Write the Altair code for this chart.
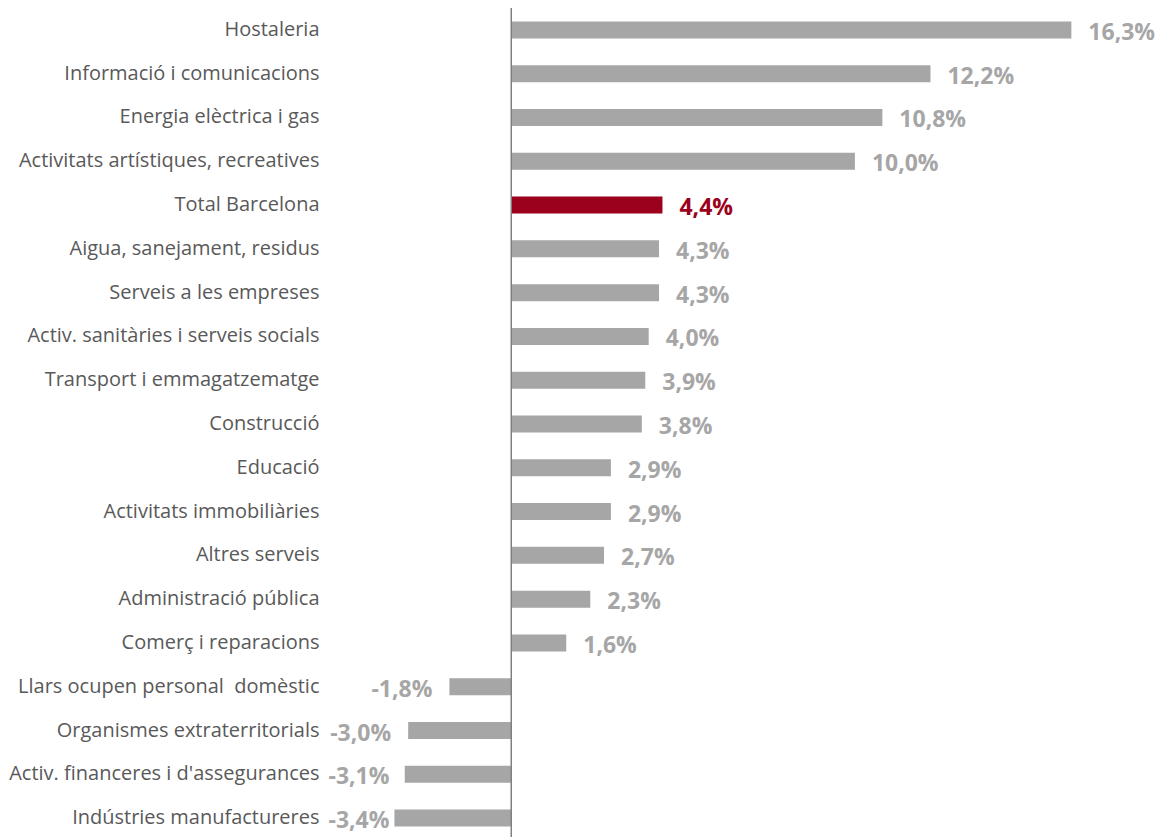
import altair as alt
import pandas as pd

categories = [
    "Hostaleria",
    "Informació i comunicacions",
    "Energia elèctrica i gas",
    "Activitats artístiques, recreatives",
    "Total Barcelona",
    "Aigua, sanejament, residus",
    "Serveis a les empreses",
    "Activ. sanitàries i serveis socials",
    "Transport i emmagatzematge",
    "Construcció",
    "Educació",
    "Activitats immobiliàries",
    "Altres serveis",
    "Administració pública",
    "Comerç i reparacions",
    "Llars ocupen personal\u00a0 domèstic",
    "Organismes extraterritorials",
    "Activ. financeres i d'assegurances",
    "Indústries manufactureres",
]
values = [16.3, 12.2, 10.8, 10.0, 4.4, 4.3, 4.3, 4.0, 3.9, 3.8,
          2.9, 2.9, 2.7, 2.3, 1.6, -1.8, -3.0, -3.1, -3.4]
highlight = "Total Barcelona"

df = pd.DataFrame({"cat": categories, "val": values})
df["label"] = df["val"].map(lambda v: f"{v:.1f}".replace(".", ",") + "%")
df["hl"] = df["cat"] == highlight

GREY = "#A6A6A6"
RED = "#9B001C"
FONT = "Open Sans"

y_enc = alt.Y("cat:N", sort=categories, axis=alt.Axis(
    title=None, ticks=False, domain=False, labelPadding=72,
    labelFontSize=20, labelColor="#595959", labelFont=FONT, labelLimit=420))
x_scale = alt.Scale(domain=[-3.5, 17.5], nice=False, zero=False)

base = alt.Chart(df)

bars = base.mark_bar(size=17).encode(
    y=y_enc,
    x=alt.X("val:Q", scale=x_scale, axis=None),
    color=alt.condition(alt.datum.hl, alt.value(RED), alt.value(GREY)),
)

pos_text = base.transform_filter(alt.datum.val >= 0).mark_text(
    align="left", baseline="middle", dx=17, dy=3, fontSize=23,
    fontWeight="bold", font=FONT,
).encode(
    y=alt.Y("cat:N", sort=categories),
    x=alt.X("val:Q", scale=x_scale),
    text="label:N",
    color=alt.condition(alt.datum.hl, alt.value(RED), alt.value(GREY)),
)

# negative labels: kept clear of the category labels (as in the original)
neg_text = base.transform_filter(alt.datum.val < 0).transform_calculate(
    lx="max(datum.val, -3.05)"
).mark_text(
    align="right", baseline="middle", dx=-17, dy=3, fontSize=23,
    fontWeight="bold", font=FONT, color=GREY,
).encode(
    y=alt.Y("cat:N", sort=categories),
    x=alt.X("lx:Q", scale=x_scale),
    text="label:N",
)

zero = alt.Chart(pd.DataFrame({"z": [0]})).mark_rule(
    color="#808080", strokeWidth=1.5
).encode(x=alt.X("z:Q", scale=x_scale))

chart = alt.layer(bars, pos_text, neg_text, zero).properties(
    width=721.6,
    height=832,
    autosize=alt.AutoSizeParams(type="none"),
    padding={"left": 383, "top": 0, "right": 44, "bottom": 0},
).configure_view(stroke=None)

chart.save("out.html", embed_options={"renderer": "svg", "actions": False})
